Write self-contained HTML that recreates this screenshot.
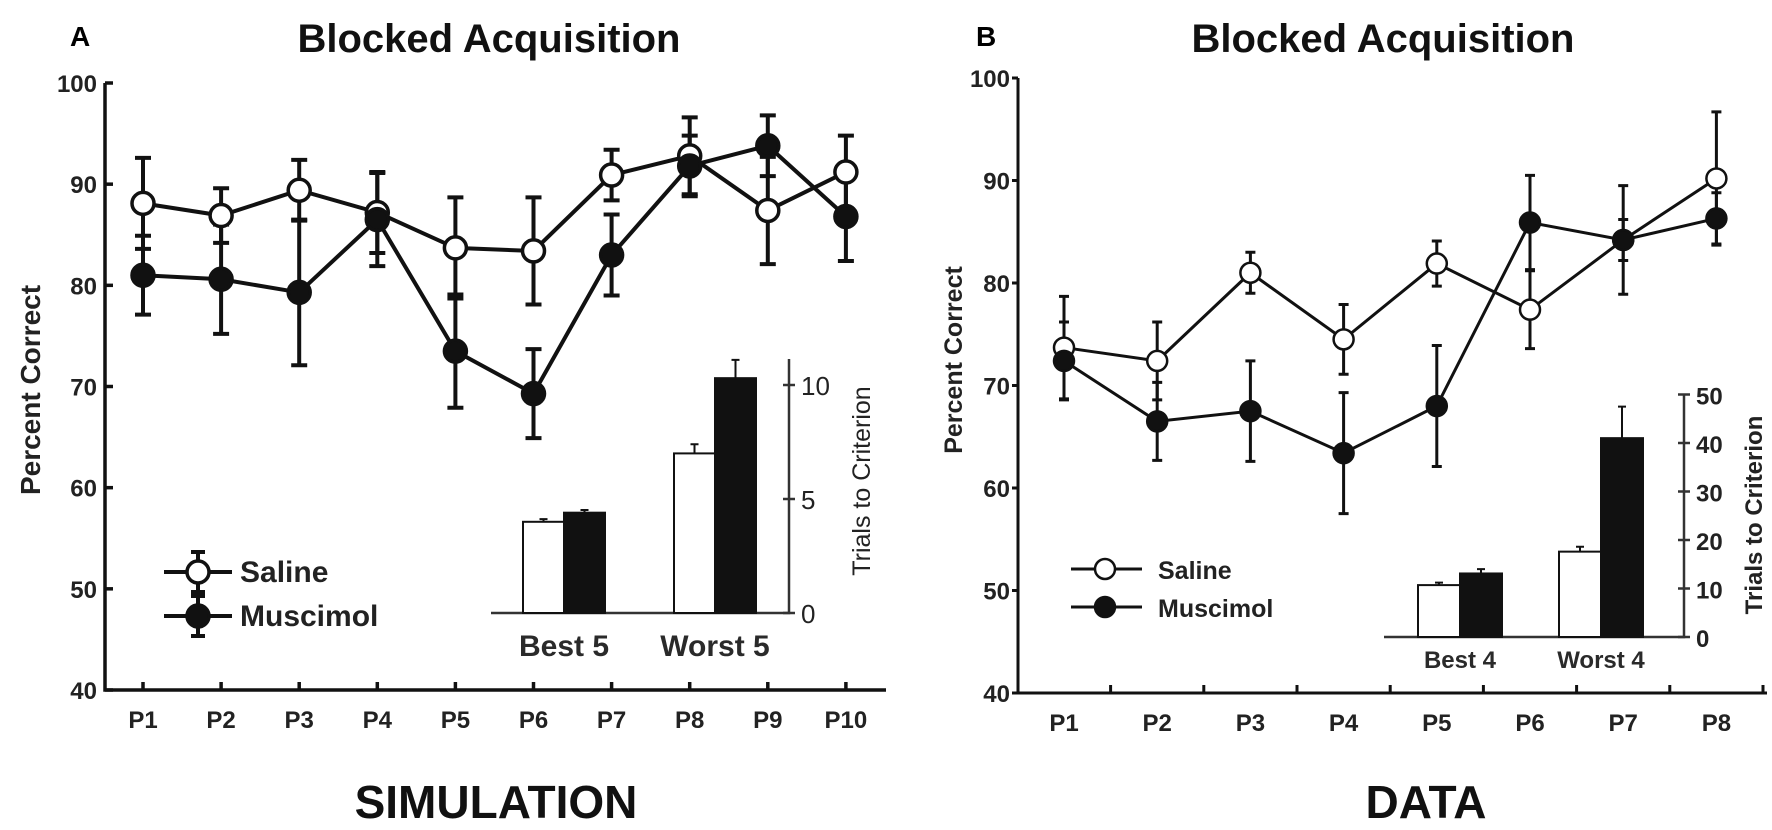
<!DOCTYPE html>
<html><head><meta charset="utf-8"><style>
html,body{margin:0;padding:0;background:#fff;}
svg{display:block;font-family:"Liberation Sans",Arial,sans-serif;}
</style></head><body>
<svg id="chart" width="1772" height="830" viewBox="0 0 1772 830" xmlns="http://www.w3.org/2000/svg">
<g id="panelA"></g>
<g id="panelB"></g>
</svg>
<script>
// ---- Panel A data ----
const catsA = ["P1","P2","P3","P4","P5","P6","P7","P8","P9","P10"];
const salineA = [88.1, 86.9, 89.4, 87.2, 83.7, 83.4, 90.9, 92.8, 87.4, 91.2];
const salineErrA = [4.5, 2.7, 3.0, 4.0, 5.0, 5.3, 2.5, 3.8, 5.3, 3.6];
const muscA = [81.0, 80.6, 79.3, 86.5, 73.5, 69.3, 83.0, 91.8, 93.8, 86.8];
const muscErrA = [3.9, 5.4, 7.2, 4.6, 5.6, 4.4, 4.0, 3.0, 3.0, 4.4];
const yTicksA = [40, 50, 60, 70, 80, 90, 100];
const insetCatsA = ["Best 5", "Worst 5"];
const insetSalA = [4.0, 7.0];
const insetSalErrA = [0.12, 0.4];
const insetMusA = [4.4, 10.3];
const insetMusErrA = [0.12, 0.8];
const insetTicksA = [0, 5, 10];
// ---- Panel B data ----
const catsB = ["P1","P2","P3","P4","P5","P6","P7","P8"];
const salineB = [73.7, 72.4, 81.0, 74.5, 81.9, 77.4, 84.2, 90.2];
const salineErrB = [5.0, 3.8, 2.0, 3.4, 2.2, 3.8, 5.3, 6.5];
const muscB = [72.4, 66.5, 67.5, 63.4, 68.0, 85.9, 84.2, 86.3];
const muscErrB = [3.8, 3.8, 4.9, 5.9, 5.9, 4.6, 2.0, 2.5];
const yTicksB = [40, 50, 60, 70, 80, 90, 100];
const insetCatsB = ["Best 4", "Worst 4"];
const insetSalB = [10.7, 17.6];
const insetSalErrB = [0.5, 1.0];
const insetMusB = [13.1, 41.0];
const insetMusErrB = [0.9, 6.5];
const insetTicksB = [0, 10, 20, 30, 40, 50];

const NS = "http://www.w3.org/2000/svg";
function mk(parent, tag, attrs, text){
  const e = document.createElementNS(NS, tag);
  for (const k in attrs) e.setAttribute(k, attrs[k]);
  if (text !== undefined) e.textContent = text;
  parent.appendChild(e);
  return e;
}

function drawPanel(g, cfg){
  const yS = v => cfg.y100 + (100 - v) * (cfg.y40 - cfg.y100) / 60;
  const xS = i => cfg.x0 + i * cfg.step;
  const col = "#111";
  const ax = mk(g, "path", {d:`M${cfg.axX},${cfg.y100} V${cfg.y40} H${cfg.axR}`, fill:"none", stroke:col, "stroke-width":cfg.axW});
  
  
  cfg.yTicks.forEach(t => {
    const y = yS(t);
    const tk = mk(g, "line", {x1:cfg.axX, x2:cfg.axX + cfg.yTickLen, y1:y, y2:y, stroke:col, "stroke-width":cfg.axW});
    
    
    const lb = mk(g, "text", {x:cfg.axX - 8, y:y + 9, "text-anchor":"end", "font-size":cfg.tickFs, "font-weight":"bold", fill:"#222"}, String(t));
    
    
  });
  cfg.cats.forEach((c, i) => {
    const x = xS(i);
    const tx = cfg.tickBetween ? x + cfg.step / 2 : x;
    const tk = mk(g, "line", {x1:tx, x2:tx, y1:cfg.y40, y2:cfg.y40 - 8, stroke:col, "stroke-width":cfg.axW});
    
    
    const lb = mk(g, "text", {x:x, y:cfg.y40 + 38, "text-anchor":"middle", "font-size":cfg.tickFs, "font-weight":"bold", fill:"#222"}, c);
    
    
  });
  const yt = mk(g, "text", {x:0, y:0, transform:`translate(${cfg.ytX},${cfg.ytY}) rotate(-90)`, "text-anchor":"middle", "font-size":cfg.ytFs, "font-weight":"bold", fill:"#222"}, "Percent Correct");
  
  
  const series = [
    {vals:cfg.sal, errs:cfg.salErr, fill:"#fff", name:"saline"},
    {vals:cfg.mus, errs:cfg.musErr, fill:col, name:"muscimol"}
  ];
  series.forEach(s => {
    s.vals.forEach((v, i) => {
      const x = xS(i), e = s.errs[i];
      const eb = mk(g, "path", {d:`M${x},${yS(v+e)} V${yS(v-e)} M${x-cfg.cap},${yS(v+e)} H${x+cfg.cap} M${x-cfg.cap},${yS(v-e)} H${x+cfg.cap}`, stroke:col, "stroke-width":cfg.errW, fill:"none"});
      
      
    });
  });
  series.forEach(s => {
    const d = s.vals.map((v, i) => (i ? "L" : "M") + xS(i) + "," + yS(v)).join(" ");
    const ln = mk(g, "path", {d:d, fill:"none", stroke:col, "stroke-width":cfg.lineW});
    
    
  });
  series.forEach(s => {
    s.vals.forEach((v, i) => {
      const pt = mk(g, "circle", {cx:xS(i), cy:yS(v), r:cfg.r, fill:s.fill, stroke:col, "stroke-width":cfg.lineW - 0.5});
      
      
    });
  });
  const legNames = ["Saline", "Muscimol"];
  legNames.forEach((n, k) => {
    const y = cfg.legY[k];
    const s = series[k];
    const lg = mk(g, "g", {});
    
    
    if (cfg.legErr) mk(lg, "path", {d:`M${cfg.legM},${y-20} V${y+20} M${cfg.legM-7},${y-20} H${cfg.legM+7} M${cfg.legM-7},${y+20} H${cfg.legM+7}`, stroke:col, "stroke-width":cfg.errW, fill:"none"});
    mk(lg, "line", {x1:cfg.legL1, x2:cfg.legL2, y1:y, y2:y, stroke:col, "stroke-width":cfg.lineW});
    mk(lg, "circle", {cx:cfg.legM, cy:y, r:cfg.r, fill:s.fill, stroke:col, "stroke-width":cfg.lineW - 0.5});
    mk(lg, "text", {x:cfg.legT, y:y + 10, "font-size":cfg.legFs, "font-weight":"bold", fill:"#222"}, n);
  });
  const iS = v => cfg.iBase - v * cfg.iUnit;
  const ia = mk(g, "path", {d:`M${cfg.iL},${cfg.iBase} H${cfg.iR} V${cfg.iTop}`, fill:"none", stroke:"#333", "stroke-width":2.5});
  
  
  cfg.iTicks.forEach(t => {
    const y = iS(t);
    const tk = mk(g, "line", {x1:cfg.iR - 6, x2:cfg.iR + 6, y1:y, y2:y, stroke:"#333", "stroke-width":2.5});
    
    
    const lb = mk(g, "text", {x:cfg.iR + 12, y:y + 10, "font-size":cfg.iFs, "font-weight":cfg.iFw, fill:"#222"}, String(t));
    
    
  });
  const bars = [{vals:cfg.iSal, errs:cfg.iSalE, fill:"#fff", off:0, name:"saline"}, {vals:cfg.iMus, errs:cfg.iMusE, fill:col, off:1, name:"muscimol"}];
  cfg.iCats.forEach((c, i) => {
    bars.forEach(b => {
      const x = cfg.iX[i] + b.off * cfg.bw;
      const v = b.vals[i], e = b.errs[i];
      const cx = x + cfg.bw / 2;
      const er = mk(g, "path", {d:`M${cx},${iS(v+e)} V${iS(v-e)} M${cx-4},${iS(v+e)} H${cx+4} M${cx-4},${iS(v-e)} H${cx+4}`, stroke:col, "stroke-width":2, fill:"none"});
      
      
      const r = mk(g, "rect", {x:x, y:iS(v), width:cfg.bw, height:v * cfg.iUnit, fill:b.fill, stroke:col, "stroke-width":2});
      
      
    });
    const lb = mk(g, "text", {x:cfg.iX[i] + cfg.bw, y:cfg.iLabY, "text-anchor":"middle", "font-size":cfg.iLabFs, "font-weight":"bold", fill:"#2a2a2a"}, c);
    
    
  });
  const it = mk(g, "text", {x:0, y:0, transform:`translate(${cfg.itX},${cfg.itY}) rotate(-90)`, "text-anchor":"middle", "font-size":cfg.itFs, "font-weight":cfg.itFw, fill:"#222"}, "Trials to Criterion");
  
  
  const pl = mk(g, "text", {x:cfg.letX, y:cfg.letY, "font-size":28, "font-weight":"bold", fill:"#000"}, cfg.letter);
  
  
  const tt = mk(g, "text", {x:cfg.titleX, y:52, "text-anchor":"middle", "font-size":40, "font-weight":"bold", fill:"#111"}, "Blocked Acquisition");
  
  
  const bt = mk(g, "text", {x:cfg.bigX, y:818, "text-anchor":"middle", "font-size":46, "font-weight":"bold", fill:"#111"}, cfg.big);
  
  
}

drawPanel(document.getElementById("panelA"), {
  cats:catsA, sal:salineA, salErr:salineErrA, mus:muscA, musErr:muscErrA, yTicks:yTicksA,
  axX:105, axR:886, y100:83, y40:690, x0:143, step:78.1, tickBetween:false, yTickLen:8,
  axW:3.5, lineW:4, errW:4, cap:8, r:11, tickFs:24, ytX:40, ytY:390, ytFs:28,
  legY:[572, 616], legL1:164, legL2:232, legM:198, legT:240, legFs:30, legErr:true,
  iBase:613, iUnit:22.8, iL:491, iR:789, iTop:359, iTicks:insetTicksA, iFs:26, iFw:"normal",
  iCats:insetCatsA, iSal:insetSalA, iSalE:insetSalErrA, iMus:insetMusA, iMusE:insetMusErrA,
  iX:[523, 674], bw:41, iLabY:656, iLabFs:30, itX:870, itY:481, itFs:25, itFw:"normal",
  letter:"A", letX:70, letY:46, titleX:489, big:"SIMULATION", bigX:496
});
drawPanel(document.getElementById("panelB"), {
  cats:catsB, sal:salineB, salErr:salineErrB, mus:muscB, musErr:muscErrB, yTicks:yTicksB,
  axX:1018, axR:1767, y100:78, y40:693, x0:1064, step:93.2, tickBetween:true, yTickLen:-6,
  axW:3, lineW:3, errW:3, cap:5, r:10, tickFs:24, ytX:962, ytY:360, ytFs:25,
  legY:[569, 607], legL1:1071, legL2:1142, legM:1105, legT:1158, legFs:25, legErr:false,
  iBase:637, iUnit:4.85, iL:1384, iR:1684, iTop:394, iTicks:insetTicksB, iFs:24, iFw:"bold",
  iCats:insetCatsB, iSal:insetSalB, iSalE:insetSalErrB, iMus:insetMusB, iMusE:insetMusErrB,
  iX:[1418, 1559], bw:42, iLabY:668, iLabFs:24, itX:1762, itY:515, itFs:24, itFw:"bold",
  letter:"B", letX:976, letY:46, titleX:1383, big:"DATA", bigX:1426
});
</script>
</body></html>
